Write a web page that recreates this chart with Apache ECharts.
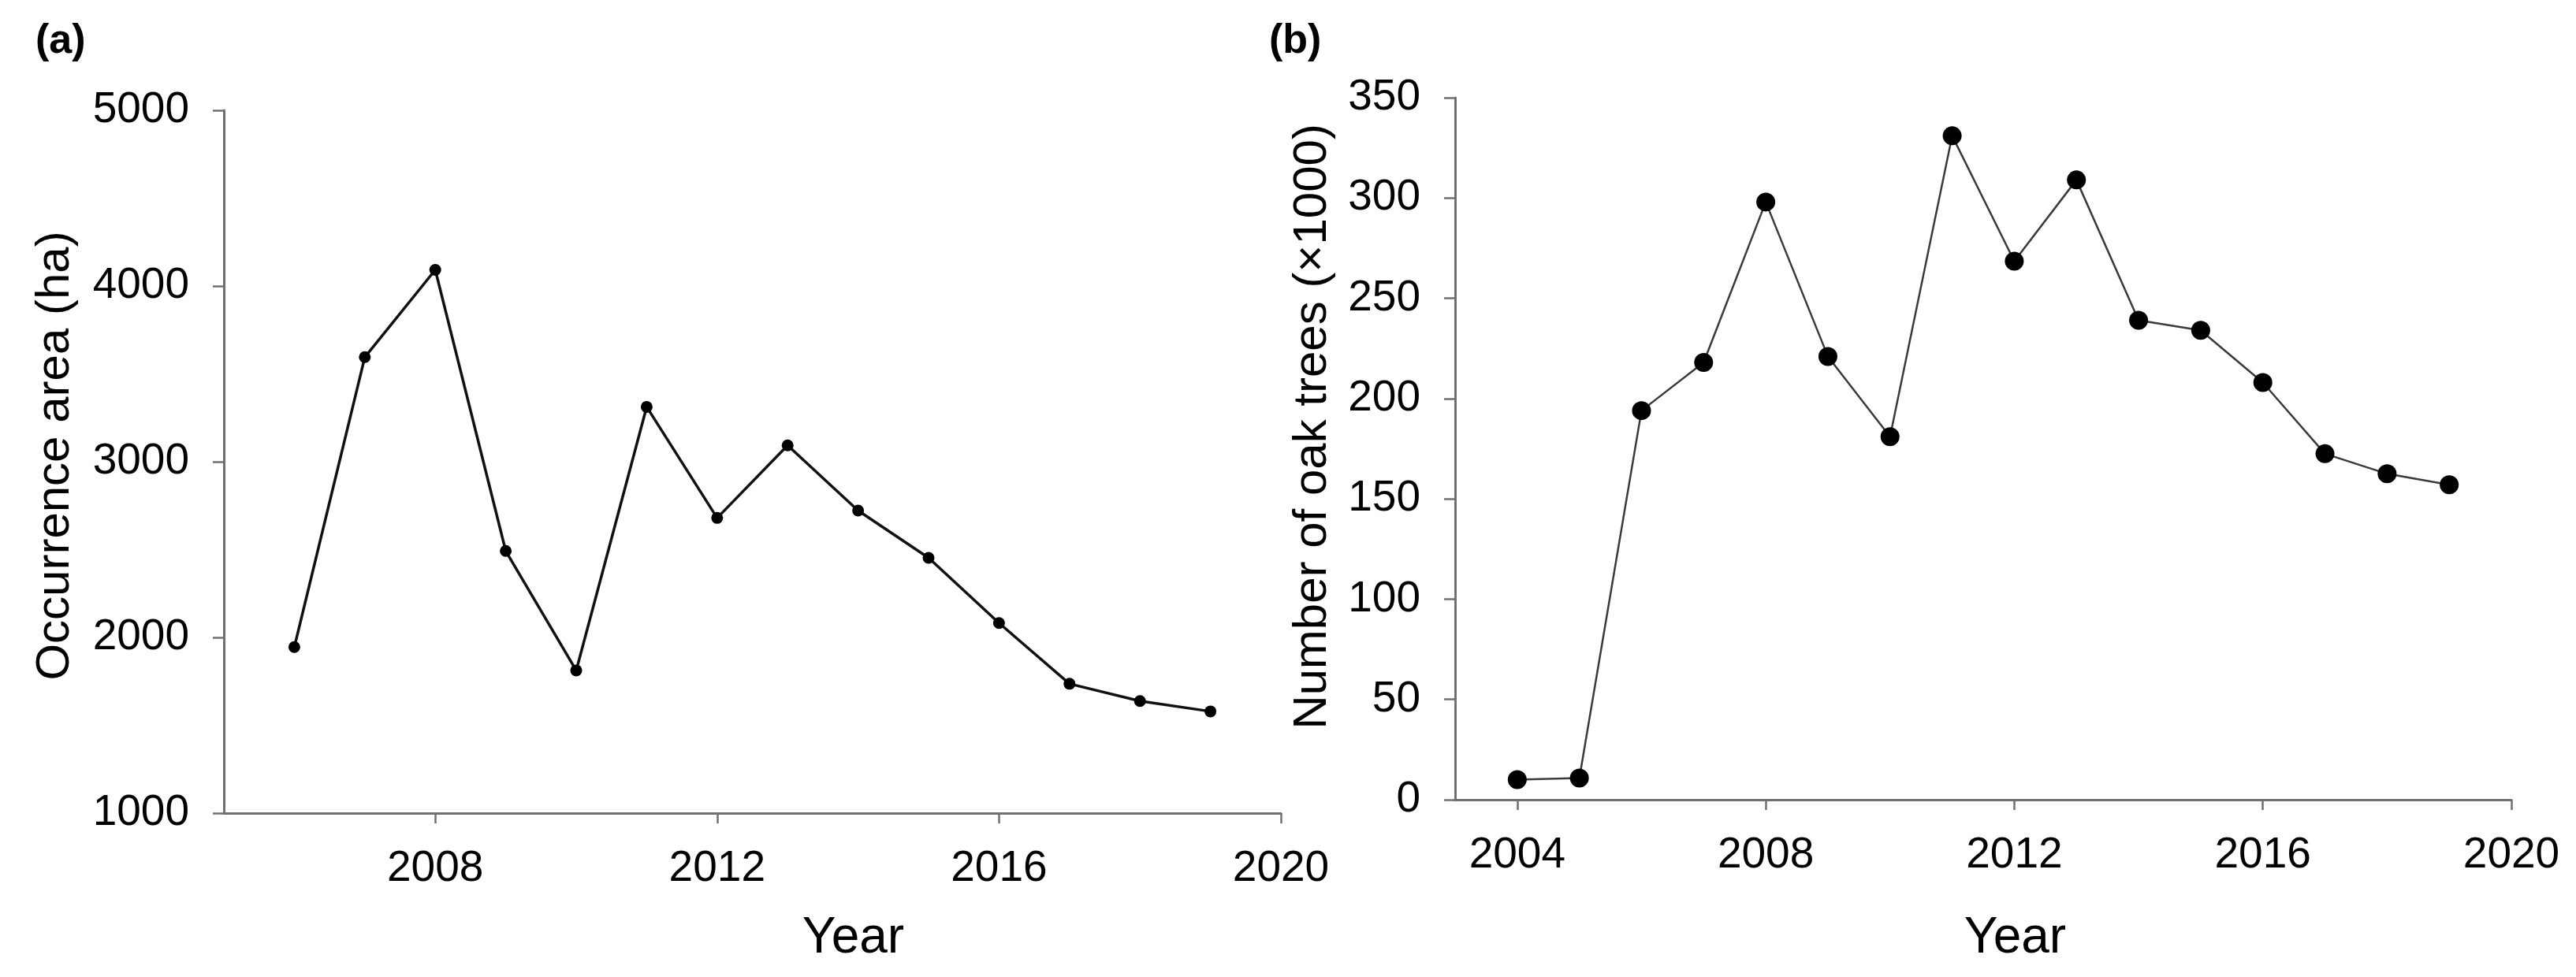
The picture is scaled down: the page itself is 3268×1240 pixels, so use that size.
<!DOCTYPE html>
<html>
<head>
<meta charset="utf-8">
<script src="https://cdn.jsdelivr.net/npm/echarts@6/dist/echarts.min.js"></script>
<style>
  html, body { margin: 0; padding: 0; background: #ffffff; }
  #chart { width: 3268px; height: 1240px; }
</style>
</head>
<body>
<div id="chart"></div>
<script>
// ---- Data ----
var yearsA = [2006, 2007, 2008, 2009, 2010, 2011, 2012, 2013, 2014, 2015, 2016, 2017, 2018, 2019];
var areaA  = [1945, 3595, 4092, 2492, 1812, 3312, 2680, 3093, 2722, 2453, 2082, 1736, 1638, 1579];

var yearsB = [2004, 2005, 2006, 2007, 2008, 2009, 2010, 2011, 2012, 2013, 2014, 2015, 2016, 2017, 2018, 2019];
var oakB   = [10, 10.8, 194, 218, 298, 221, 181, 331, 268.5, 309, 239, 234, 208, 172.5, 162.5, 157];

var xTicksA = [2008, 2012, 2016, 2020];
var xTicksB = [2004, 2008, 2012, 2016, 2020];

var labelA = '(a)';
var labelB = '(b)';
var yNameA = 'Occurrence area (ha)';
var yNameB = 'Number of oak trees (\u00d71000)';
var xName = 'Year';

function pairs(xs, ys) { return xs.map(function (x, i) { return [x, ys[i]]; }); }
function plain(v) { return String(v); }

var FONT = '"Liberation Sans", Arial, Helvetica, sans-serif';
var AXIS_COLOR = '#707070';

function xAxisCfg(idx, min, ticks, gap, padLeft) {
  return {
    type: 'value', gridIndex: idx, min: min, max: 2020,
    name: xName, nameLocation: 'middle', nameGap: gap,
    nameTextStyle: { fontFamily: FONT, fontSize: 64, color: '#000', padding: [0, 0, 0, padLeft] },
    axisLine: { show: true, onZero: false, lineStyle: { color: AXIS_COLOR, width: 3 } },
    axisTick: { show: true, inside: false, length: 13, customValues: ticks, lineStyle: { color: AXIS_COLOR, width: 2.5 } },
    axisLabel: { customValues: ticks, formatter: plain, margin: 43, fontFamily: FONT, fontSize: 55, color: '#000' },
    splitLine: { show: false }
  };
}
function yAxisCfg(idx, min, max, interval, name, gap, padLeft) {
  return {
    type: 'value', gridIndex: idx, min: min, max: max, interval: interval,
    name: name, nameLocation: 'middle', nameGap: gap, nameRotate: 90,
    nameTextStyle: { fontFamily: FONT, fontSize: 60, color: '#000', padding: [0, 0, 0, padLeft] },
    axisLine: { show: true, lineStyle: { color: AXIS_COLOR, width: 3 } },
    axisTick: { show: true, inside: false, length: 14, lineStyle: { color: AXIS_COLOR, width: 2.5 } },
    axisLabel: { formatter: plain, margin: 44, fontFamily: FONT, fontSize: 55, color: '#000' },
    splitLine: { show: false }
  };
}

var chart = echarts.init(document.getElementById('chart'), null, { renderer: 'canvas' });
chart.setOption({
  backgroundColor: '#ffffff',
  animation: false,
  title: [
    { text: labelA, left: 40, top: 22, textStyle: { fontFamily: FONT, fontSize: 52, fontWeight: 'bold', color: '#000' } },
    { text: labelB, left: 1605, top: 22, textStyle: { fontFamily: FONT, fontSize: 52, fontWeight: 'bold', color: '#000' } }
  ],
  grid: [
    { left: 284, top: 140, width: 1341, height: 892, containLabel: false },
    { left: 1846, top: 124, width: 1340, height: 891, containLabel: false }
  ],
  xAxis: [
    xAxisCfg(0, 2005, xTicksA, 127, 256),
    xAxisCfg(1, 2003, xTicksB, 144, 81)
  ],
  yAxis: [
    yAxisCfg(0, 1000, 5000, 1000, yNameA, 184, 15),
    yAxisCfg(1, 0, 350, 50, yNameB, 151, 56)
  ],
  series: [
    {
      type: 'line', xAxisIndex: 0, yAxisIndex: 0,
      data: pairs(yearsA, areaA),
      symbol: 'circle', symbolSize: 15,
      lineStyle: { color: '#111', width: 3.5 },
      itemStyle: { color: '#000' }
    },
    {
      type: 'line', xAxisIndex: 1, yAxisIndex: 1,
      data: pairs(yearsB, oakB),
      symbol: 'circle', symbolSize: 24,
      lineStyle: { color: '#3a3a3a', width: 2.5 },
      itemStyle: { color: '#000' }
    }
  ]
});
</script>
</body>
</html>
